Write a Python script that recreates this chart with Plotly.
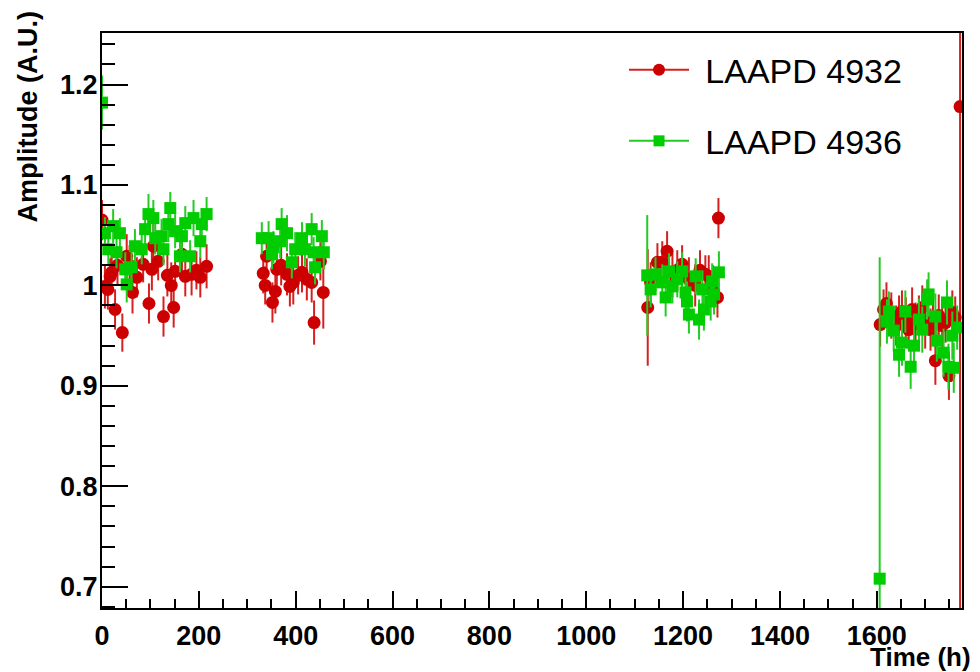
import plotly.graph_objects as go

# ---------------- data ----------------
time_4932 = [0, 6, 12, 17, 20, 27, 32, 42, 51, 57, 63, 72, 85, 97, 103, 106, 116, 127, 135, 143, 148, 151, 165, 172, 185, 195, 203, 216,
             333, 337, 340, 352, 358, 361, 370, 382, 388, 395, 405, 413, 423, 433, 438, 451, 457,
             1127, 1133, 1147, 1157, 1167, 1178, 1188, 1198, 1212, 1225, 1235, 1246, 1253, 1262, 1271, 1273,
             1607, 1614, 1620, 1630, 1640, 1646, 1652, 1660, 1666, 1673, 1680, 1687, 1694, 1700, 1711, 1716, 1721, 1728, 1735, 1742, 1749, 1756, 1762, 1772]
amp_4932 = [1.065, 0.999, 0.996, 1.009, 1.013, 0.976, 1.020, 0.953, 1.029, 1.020, 0.993, 1.008, 1.021, 0.982, 1.016, 1.039, 1.024, 0.969, 1.010, 1.000, 0.978, 1.014, 1.031, 1.009, 1.011, 1.015, 1.008, 1.019,
            1.012, 1.000, 1.029, 0.983, 0.994, 1.016, 1.020, 1.011, 0.999, 1.003, 1.010, 1.013, 1.006, 1.003, 0.963, 1.024, 0.993,
            0.978, 1.003, 1.023, 1.023, 1.034, 1.010, 1.015, 1.021, 1.006, 1.000, 1.015, 1.011, 1.009, 1.000, 0.988, 1.067,
            0.961, 0.976, 0.982, 0.970, 0.960, 0.968, 0.974, 0.965, 0.956, 0.976, 0.962, 0.970, 0.978, 0.960, 0.956, 0.965, 0.925, 0.970, 0.960, 0.963, 0.910, 0.973, 0.968, 1.178]
err_4932 = [0.020, 0.022, 0.020, 0.018, 0.021, 0.020, 0.019, 0.019, 0.022, 0.020, 0.021, 0.020, 0.018, 0.020, 0.021, 0.022, 0.019, 0.020, 0.021, 0.023, 0.020, 0.019, 0.022, 0.020, 0.021, 0.019, 0.020, 0.022,
            0.020, 0.019, 0.021, 0.020, 0.022, 0.019, 0.020, 0.021, 0.020, 0.022, 0.019, 0.020, 0.021, 0.020, 0.022, 0.019, 0.036,
            0.058, 0.020, 0.019, 0.021, 0.020, 0.022, 0.020, 0.019, 0.022, 0.021, 0.020, 0.019, 0.021, 0.020, 0.020, 0.020,
            0.022, 0.020, 0.021, 0.023, 0.020, 0.022, 0.021, 0.023, 0.020, 0.022, 0.021, 0.020, 0.022, 0.023, 0.021, 0.022, 0.024, 0.021, 0.023, 0.020, 0.024, 0.022, 0.021, 0.600]

time_4936 = [0, 6, 13, 23, 30, 37, 48, 51, 61, 68, 82, 89, 96, 106, 110, 123, 127, 137, 141, 151, 161, 165, 172, 182, 189, 203, 206, 216,
             330, 344, 351, 354, 368, 371, 382, 392, 399, 413, 419, 433, 437, 440, 454, 458,
             1126, 1133, 1143, 1157, 1164, 1171, 1178, 1188, 1198, 1205, 1208, 1212, 1226, 1233, 1240, 1243, 1257, 1260, 1264, 1274,
             1606, 1621, 1625, 1635, 1646, 1652, 1659, 1670, 1677, 1687, 1694, 1704, 1707, 1721, 1724, 1738, 1745, 1748, 1756, 1759, 1766]
amp_4936 = [1.182, 1.052, 1.036, 1.059, 1.033, 1.052, 1.016, 1.001, 1.018, 1.039, 1.036, 1.056, 1.071, 1.067, 1.047, 1.049, 1.036, 1.061, 1.077, 1.054, 1.029, 1.049, 1.062, 1.029, 1.067, 1.044, 1.061, 1.071,
            1.047, 1.047, 1.031, 1.038, 1.044, 1.061, 1.052, 1.023, 1.036, 1.047, 1.036, 1.056, 1.033, 1.018, 1.049, 1.033,
            1.010, 0.996, 1.011, 1.003, 0.988, 1.014, 0.999, 1.006, 1.014, 0.993, 0.984, 0.971, 1.009, 0.966, 0.996, 0.976, 0.984, 1.004, 0.991, 1.013,
            0.708, 0.964, 0.974, 0.955, 0.931, 0.943, 0.974, 0.919, 0.940, 0.966, 0.956, 0.986, 0.991, 0.969, 0.945, 0.933, 0.983, 0.919, 0.950, 0.918, 0.958]
err_4936 = [0.027, 0.016, 0.015, 0.017, 0.016, 0.015, 0.017, 0.018, 0.016, 0.017, 0.015, 0.016, 0.020, 0.018, 0.016, 0.017, 0.016, 0.018, 0.016, 0.017, 0.016, 0.018, 0.017, 0.016, 0.018, 0.017, 0.016, 0.017,
            0.016, 0.017, 0.015, 0.016, 0.017, 0.016, 0.018, 0.016, 0.017, 0.016, 0.017, 0.016, 0.015, 0.017, 0.016, 0.017,
            0.060, 0.018, 0.017, 0.018, 0.019, 0.018, 0.017, 0.018, 0.019, 0.018, 0.020, 0.019, 0.018, 0.020, 0.019, 0.021, 0.019, 0.018, 0.020, 0.021,
            0.320, 0.022, 0.020, 0.021, 0.022, 0.023, 0.021, 0.022, 0.024, 0.021, 0.023, 0.020, 0.022, 0.023, 0.021, 0.024, 0.022, 0.023, 0.024, 0.025, 0.022]

names = ["LAAPD 4932", "LAAPD 4936"]
x_range = [0, 1776]
y_range = [0.6788, 1.2513]

RED, RED_LINE = "#cc0000", "#d62020"
GREEN, GREEN_LINE = "#00cc00", "#22cc22"
FONT = "Liberation Sans, Arial, Helvetica, sans-serif"

fig = go.Figure()

fig.add_trace(go.Scatter(
    x=time_4932, y=amp_4932, mode="markers", showlegend=False,
    marker=dict(symbol="circle", size=13, color=RED),
    error_y=dict(type="data", array=err_4932, color=RED_LINE, thickness=2, width=0),
))
fig.add_trace(go.Scatter(
    x=time_4936, y=amp_4936, mode="markers", showlegend=False,
    marker=dict(symbol="square", size=12, color=GREEN),
    error_y=dict(type="data", array=err_4936, color=GREEN_LINE, thickness=2, width=0),
))
# legend entries (line + marker, like ROOT "lp")
GAP = "\u2005\u200a"
fig.add_trace(go.Scatter(x=[None], y=[None], mode="lines+markers", name=GAP + names[0], legendgroup="a",
                         line=dict(color=RED_LINE, width=2),
                         marker=dict(symbol="circle", size=12, color=RED)))
fig.add_trace(go.Scatter(x=[None], y=[None], mode="lines+markers", name=GAP + names[1], legendgroup="b",
                         line=dict(color=GREEN_LINE, width=2),
                         marker=dict(symbol="square", size=11, color=GREEN)))

axis_common = dict(
    showline=True, linecolor="black", linewidth=2, mirror=True,
    showgrid=False, zeroline=False, automargin=False,
    ticks="inside", tickcolor="black", tickwidth=2,
    tickfont=dict(family=FONT, size=27, color="black", weight="bold"),
)

fig.update_layout(
    width=980, height=672,
    margin=dict(l=102, r=18, t=33, b=64, autoexpand=False),
    paper_bgcolor="white", plot_bgcolor="white",
    xaxis=dict(range=x_range, dtick=200, tick0=0, ticklen=17, ticklabelstandoff=3,
               minor=dict(dtick=50, ticks="inside", ticklen=9, tickcolor="black", tickwidth=2),
               **axis_common),
    yaxis=dict(range=y_range, dtick=0.1, tick0=0.7, ticklen=26, ticklabelstandoff=-3,
               minor=dict(dtick=0.02, ticks="inside", ticklen=13, tickcolor="black", tickwidth=2),
               **axis_common),
    legend=dict(x=0.607, xanchor="left", y=0.986, yanchor="top",
                bgcolor="rgba(0,0,0,0)", itemwidth=60, tracegroupgap=24,
                font=dict(family=FONT, size=34, color="black")),
    annotations=[
        dict(text="Amplitude (A.U.)", textangle=-90, xref="paper", yref="paper",
             x=-0.086, y=1.04, xanchor="center", yanchor="top", showarrow=False,
             font=dict(family=FONT, size=27, color="black", weight="bold")),
        dict(text="Time (h)", xref="paper", yref="paper",
             x=1.0128, y=-0.0565, xanchor="right", yanchor="top", showarrow=False,
             font=dict(family=FONT, size=26, color="black", weight="bold")),
    ],
)

fig.write_html("out.html", config={"displayModeBar": False},
               post_script="document.body.style.margin='0px';")
